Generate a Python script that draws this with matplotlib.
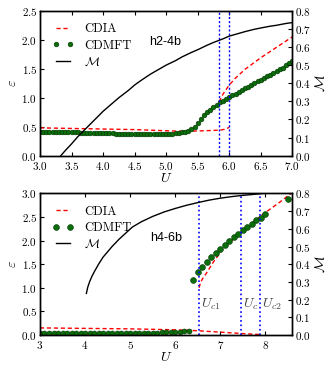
import matplotlib
matplotlib.use("Agg")
import matplotlib.pyplot as plt
from matplotlib.ticker import FuncFormatter
import numpy as np

plt.rcParams['font.family'] = 'cmr10'
plt.rcParams['mathtext.fontset'] = 'cm'
plt.rcParams['axes.formatter.use_mathtext'] = True
plt.rcParams['font.size'] = 8

# ---------------- top panel (h2-4b) ----------------
top_dmft_U = [3.00, 3.05, 3.10, 3.15, 3.20, 3.25, 3.30, 3.35, 3.40, 3.45, 3.50,
              3.55, 3.60, 3.65, 3.70, 3.75, 3.80, 3.85, 3.90, 3.95, 4.00,
              4.05, 4.10, 4.15, 4.20, 4.25, 4.30, 4.35, 4.40, 4.45, 4.50,
              4.55, 4.60, 4.65, 4.70, 4.75, 4.80, 4.85, 4.90, 4.95, 5.00,
              5.05, 5.10, 5.15, 5.20, 5.25, 5.30, 5.35, 5.40, 5.45, 5.50,
              5.55, 5.60, 5.65, 5.70, 5.75, 5.80, 5.85, 5.90, 5.95, 6.00,
              6.05, 6.10, 6.15, 6.20, 6.25, 6.30, 6.35, 6.40, 6.45, 6.50,
              6.55, 6.60, 6.65, 6.70, 6.75, 6.80, 6.85, 6.90, 6.95, 7.00]
top_dmft_eps = [0.40, 0.40, 0.40, 0.40, 0.40, 0.40, 0.40, 0.40, 0.40, 0.40, 0.40,
                0.40, 0.40, 0.39, 0.39, 0.39, 0.39, 0.39, 0.39, 0.39, 0.39,
                0.39, 0.39, 0.39, 0.38, 0.38, 0.38, 0.38, 0.38, 0.38, 0.38,
                0.38, 0.38, 0.38, 0.38, 0.38, 0.38, 0.38, 0.38, 0.38, 0.38,
                0.38, 0.38, 0.39, 0.39, 0.40, 0.41, 0.43, 0.46, 0.50, 0.57,
                0.64, 0.70, 0.75, 0.79, 0.84, 0.88, 0.92, 0.95, 0.98, 1.01,
                1.04, 1.07, 1.10, 1.13, 1.16, 1.19, 1.22, 1.25, 1.28, 1.31,
                1.34, 1.37, 1.40, 1.43, 1.46, 1.49, 1.52, 1.56, 1.60, 1.64]
top_cdia_lo_U = [3.0, 3.5, 4.0, 4.5, 5.0, 5.3, 5.6, 5.85, 5.95, 6.0]
top_cdia_lo_eps = [0.48, 0.47, 0.46, 0.45, 0.43, 0.42, 0.43, 0.44, 0.46, 0.49]
top_cdia_hi_U = [5.84, 5.9, 6.0, 6.1, 6.25, 6.5, 6.75, 7.0]
top_cdia_hi_eps = [0.93, 1.06, 1.22, 1.34, 1.49, 1.69, 1.87, 2.05]
top_M_U = [3.33, 3.4, 3.5, 3.6, 3.7, 3.8, 3.9, 4.0, 4.1, 4.25, 4.4, 4.5, 4.6,
           4.75, 4.9, 5.0, 5.15, 5.25, 5.4, 5.5, 5.65, 5.75, 5.9, 6.0, 6.15,
           6.25, 6.4, 6.5, 6.65, 6.75, 6.9, 7.0]
top_M = [0.0, 0.028, 0.065, 0.105, 0.14, 0.175, 0.21, 0.245, 0.275, 0.32,
         0.36, 0.39, 0.415, 0.45, 0.48, 0.50, 0.525, 0.545, 0.57, 0.585,
         0.61, 0.625, 0.645, 0.66, 0.675, 0.685, 0.698, 0.705, 0.715, 0.72,
         0.73, 0.735]
top_vlines = [5.84, 6.0]

# ---------------- bottom panel (h4-6b) ----------------
bot_dmft_lo_U = [3.0, 3.1, 3.2, 3.3, 3.4, 3.5, 3.6, 3.7, 3.8, 3.9, 4.0, 4.1,
                 4.2, 4.3, 4.4, 4.5, 4.6, 4.7, 4.8, 4.9, 5.0, 5.1, 5.2, 5.3,
                 5.4, 5.5, 5.6, 5.7, 5.8, 5.9, 6.0, 6.1, 6.2, 6.3]
bot_dmft_lo_eps = [0.05, 0.05, 0.05, 0.05, 0.05, 0.05, 0.05, 0.05, 0.05, 0.05,
                   0.05, 0.05, 0.05, 0.05, 0.05, 0.05, 0.05, 0.05, 0.05, 0.05,
                   0.05, 0.05, 0.05, 0.05, 0.05, 0.05, 0.05, 0.06, 0.06, 0.06,
                   0.07, 0.07, 0.08, 0.08]
bot_dmft_hi_U = [6.4, 6.5, 6.6, 6.7, 6.8, 6.9, 7.0, 7.1, 7.2, 7.3, 7.4, 7.5,
                 7.6, 7.7, 7.8, 7.9, 8.0, 8.5]
bot_dmft_hi_eps = [1.17, 1.33, 1.45, 1.55, 1.65, 1.74, 1.83, 1.91, 1.99, 2.08,
                   2.15, 2.22, 2.29, 2.36, 2.43, 2.49, 2.56, 2.89]
bot_cdia_lo_U = [3.0, 4.0, 5.0, 6.0, 6.5, 7.0, 7.5, 7.88]
bot_cdia_lo_eps = [0.15, 0.14, 0.13, 0.11, 0.09, 0.06, 0.03, 0.01]
bot_cdia_hi_U = [6.53, 6.56, 6.6, 6.7, 6.85, 7.06, 7.36, 7.58, 7.95, 8.3, 8.6]
bot_cdia_hi_eps = [1.00, 1.10, 1.18, 1.32, 1.55, 1.82, 2.10, 2.27, 2.56, 2.80, 3.02]
bot_M_U = [4.03, 4.06, 4.1, 4.15, 4.2, 4.3, 4.4, 4.5, 4.6, 4.75, 4.9, 5.05,
           5.25, 5.5, 5.75, 6.0, 6.25, 6.5, 6.75, 7.0, 7.25, 7.5, 7.75, 7.95]
bot_M = [0.235, 0.27, 0.30, 0.33, 0.355, 0.40, 0.44, 0.47, 0.50, 0.54, 0.575,
         0.61, 0.64, 0.67, 0.695, 0.715, 0.733, 0.748, 0.762, 0.773, 0.782,
         0.789, 0.795, 0.80]
bot_vlines = [6.53, 7.46, 7.88]
bot_vline_labels = [r'$U_{c1}$', r'$U_c$', r'$U_{c2}$']

fig = plt.figure(figsize=(3.36, 3.72), dpi=100)
ax1 = fig.add_axes([0.119, 0.5815, 0.751, 0.3895])
ax2 = fig.add_axes([0.119, 0.0995, 0.751, 0.3805])

green = '#0b6e0b'


def fmt1(x, pos):
    return r'$%.1f$' % x


def fmt0(x, pos):
    return r'$%d$' % int(round(x))


def style(ax, axr):
    ax.tick_params(direction='in', top=True, right=False, length=3, labelsize=8, pad=2)
    ax.tick_params(axis='x', pad=3)
    axr.tick_params(direction='in', length=3, labelsize=8, pad=2)
    for a in (ax, axr):
        for s in a.spines.values():
            s.set_linewidth(1.0)


leg_kw = dict(loc='upper left', frameon=False, fontsize=9, numpoints=2,
              handlelength=1.7, handletextpad=0.8, borderaxespad=0.0,
              labelspacing=0.35)

# top
axr1 = ax1.twinx()
ax1.plot(top_cdia_lo_U, top_cdia_lo_eps, '--', color='red', lw=1.0, dashes=(3, 2))
ax1.plot(top_cdia_hi_U, top_cdia_hi_eps, '--', color='red', lw=1.0, dashes=(3, 2), label='CDIA')
ax1.plot(top_dmft_U, top_dmft_eps, 'o', color=green, mec='#003300', mew=0.4, ms=3.4,
         label='CDMFT')
axr1.plot(top_M_U, top_M, '-', color='black', lw=1.0)
ax1.plot([], [], '-', color='black', lw=1.0, label=r'$\mathcal{M}$')
for v in top_vlines:
    ax1.axvline(v, color='blue', ls=(0, (1.5, 1.5)), lw=1.0)
ax1.set_xlim(3.0, 7.0)
ax1.set_ylim(0, 2.5)
axr1.set_ylim(0, 0.8)
ax1.set_xticks(np.arange(3.0, 7.01, 0.5))
ax1.set_yticks(np.arange(0, 2.51, 0.5))
axr1.set_yticks(np.arange(0, 0.81, 0.1))
ax1.xaxis.set_major_formatter(FuncFormatter(fmt1))
ax1.yaxis.set_major_formatter(FuncFormatter(fmt1))
axr1.yaxis.set_major_formatter(FuncFormatter(fmt1))
ax1.set_xlabel(r'$U$', fontsize=10, labelpad=0)
ax1.set_ylabel(r'$\varepsilon$', fontsize=10, labelpad=2)
axr1.set_ylabel(r'$\mathcal{M}$', fontsize=10, labelpad=2)
ax1.text(4.98, 1.96, 'h2-4b', family='Liberation Sans', fontsize=9, ha='center', va='center')
ax1.legend(bbox_to_anchor=(0.03, 0.95), **leg_kw)
style(ax1, axr1)

# bottom
axr2 = ax2.twinx()
ax2.plot(bot_cdia_lo_U, bot_cdia_lo_eps, '--', color='red', lw=1.0, dashes=(3, 2))
ax2.plot(bot_cdia_hi_U, bot_cdia_hi_eps, '--', color='red', lw=1.0, dashes=(3, 2), label='CDIA')
ax2.plot(bot_dmft_lo_U, bot_dmft_lo_eps, 'o', color=green, mec='#003300', mew=0.4, ms=3.6)
ax2.plot(bot_dmft_hi_U, bot_dmft_hi_eps, 'o', color=green, mec='#003300', mew=0.4, ms=4.2,
         label='CDMFT')
axr2.plot(bot_M_U, bot_M, '-', color='black', lw=1.0)
ax2.plot([], [], '-', color='black', lw=1.0, label=r'$\mathcal{M}$')
for v, lab in zip(bot_vlines, bot_vline_labels):
    ax2.axvline(v, color='blue', ls=':', lw=1.2)
    ax2.text(v + 0.04, 0.65, lab, fontsize=10, color='#444444', ha='left', va='center')
ax2.set_xlim(3.0, 8.6)
ax2.set_ylim(0, 3.0)
axr2.set_ylim(0, 0.8)
ax2.set_xticks(np.arange(3, 8.01, 1))
ax2.set_yticks(np.arange(0, 3.01, 0.5))
axr2.set_yticks(np.arange(0, 0.81, 0.1))
ax2.xaxis.set_major_formatter(FuncFormatter(fmt0))
ax2.yaxis.set_major_formatter(FuncFormatter(fmt1))
axr2.yaxis.set_major_formatter(FuncFormatter(fmt1))
ax2.set_xlabel(r'$U$', fontsize=10, labelpad=0)
ax2.set_ylabel(r'$\varepsilon$', fontsize=10, labelpad=2)
axr2.set_ylabel(r'$\mathcal{M}$', fontsize=10, labelpad=2)
ax2.text(5.8, 2.06, 'h4-6b', family='Liberation Sans', fontsize=9, ha='center', va='center')
ax2.legend(bbox_to_anchor=(0.03, 0.95), **leg_kw)
style(ax2, axr2)

fig.savefig('out.png', dpi=100)
